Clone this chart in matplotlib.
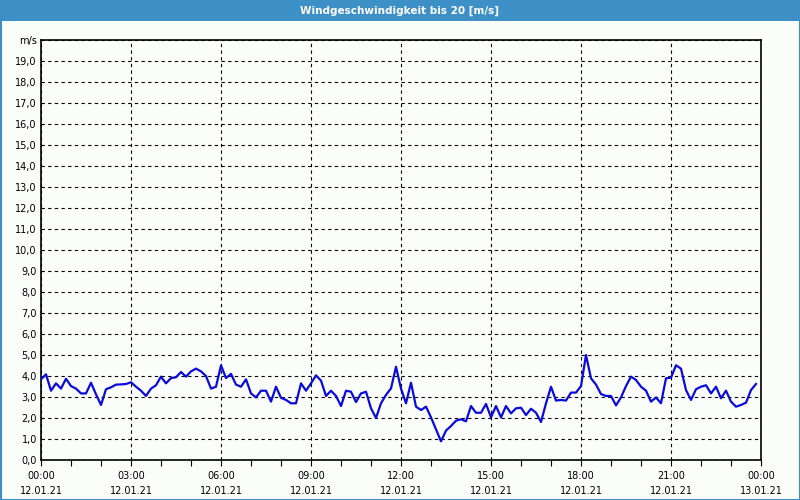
import numpy as np
import matplotlib
matplotlib.use("Agg")
import matplotlib.pyplot as plt
from matplotlib.ticker import FixedLocator, FuncFormatter, MultipleLocator

TITLE = "Windgeschwindigkeit bis 20 [m/s]"
UNIT = "m/s"

# wind speed every 10 minutes, 12.01.21 00:00 .. 23:50
speed = [
    3.84, 4.08, 3.30, 3.65, 3.40, 3.87, 3.52, 3.40, 3.17, 3.17, 3.68, 3.13,
    2.62, 3.37, 3.46, 3.59, 3.60, 3.62, 3.70, 3.49, 3.30, 3.05, 3.40, 3.56,
    3.97, 3.65, 3.90, 3.94, 4.19, 3.97, 4.22, 4.35, 4.22, 4.00, 3.40, 3.49,
    4.51, 3.90, 4.10, 3.59, 3.49, 3.84, 3.17, 2.98, 3.30, 3.30, 2.78, 3.49,
    2.96, 2.86, 2.70, 2.70, 3.65, 3.30, 3.65, 4.03, 3.78, 3.05, 3.30, 3.05,
    2.57, 3.30, 3.25, 2.76, 3.17, 3.25, 2.46, 2.00, 2.70, 3.10, 3.41, 4.44,
    3.40, 2.70, 3.68, 2.54, 2.38, 2.54, 2.03, 1.46, 0.89, 1.40, 1.62, 1.87,
    1.94, 1.84, 2.57, 2.25, 2.25, 2.67, 2.03, 2.57, 2.03, 2.57, 2.22, 2.46,
    2.49, 2.14, 2.44, 2.25, 1.81, 2.70, 3.49, 2.83, 2.86, 2.83, 3.21, 3.21,
    3.52, 5.00, 3.89, 3.59, 3.14, 3.05, 3.05, 2.60, 2.98, 3.52, 3.97, 3.81,
    3.49, 3.30, 2.78, 2.98, 2.70, 3.89, 3.92, 4.51, 4.35, 3.33, 2.86, 3.37,
    3.49, 3.56, 3.17, 3.49, 2.94, 3.30, 2.78, 2.54, 2.62, 2.73, 3.33, 3.62,
]
minutes = np.arange(len(speed)) * 10

tick_hours = [0, 3, 6, 9, 12, 15, 18, 21, 24]
tick_labels = ["00:00\n12.01.21", "03:00\n12.01.21", "06:00\n12.01.21",
               "09:00\n12.01.21", "12:00\n12.01.21", "15:00\n12.01.21",
               "18:00\n12.01.21", "21:00\n12.01.21", "00:00\n13.01.21"]

BLUE_BAR = "#3d90c6"
BG = "#fbfdfb"

fig = plt.figure(figsize=(8, 5), dpi=100, facecolor=BG)

# title bar + outer frame
fig.patches.append(plt.Rectangle((0, 1 - 21 / 500), 1, 21 / 500, transform=fig.transFigure,
                                 facecolor=BLUE_BAR, edgecolor="none", zorder=0))
fig.patches.append(plt.Rectangle((0.5 / 800, 0.5 / 500), 1 - 1 / 800, 1 - 1 / 500,
                                 transform=fig.transFigure, facecolor="none",
                                 edgecolor=BLUE_BAR, lw=1.5, zorder=5))
fig.text(0.5, 1 - 10.5 / 500, TITLE, ha="center", va="center", color="white",
         fontsize=7.5, fontweight="bold")

ax = fig.add_axes([41 / 800, 40 / 500, 720 / 800, 420 / 500])
ax.set_facecolor(BG)
ax.plot(minutes / 60, speed, color="#0a0adc", lw=1.6, zorder=3)

ax.set_xlim(0, 24)
ax.set_ylim(0, 20)
ax.xaxis.set_major_locator(FixedLocator(tick_hours))
ax.set_xticklabels(tick_labels)
ax.xaxis.set_minor_locator(MultipleLocator(1))
ax.yaxis.set_major_locator(MultipleLocator(1))
ax.yaxis.set_major_formatter(FuncFormatter(
    lambda v, p: UNIT if v >= 20 else f"{v:.1f}".replace(".", ",")))

ax.grid(True, axis="both", which="major", color="black", ls=(0, (3, 3)), lw=0.8)
ax.tick_params(axis="x", which="both", direction="out", length=4, width=0.8,
               labelsize=7, pad=4, colors="black")
ax.tick_params(axis="y", which="major", length=0, labelsize=7, pad=3)
for lab in ax.get_xticklabels():
    lab.set_linespacing(1.55)
for s in ax.spines.values():
    s.set_linewidth(1.2)
    s.set_color("black")

fig.savefig("out.png", dpi=100, facecolor=BG)
